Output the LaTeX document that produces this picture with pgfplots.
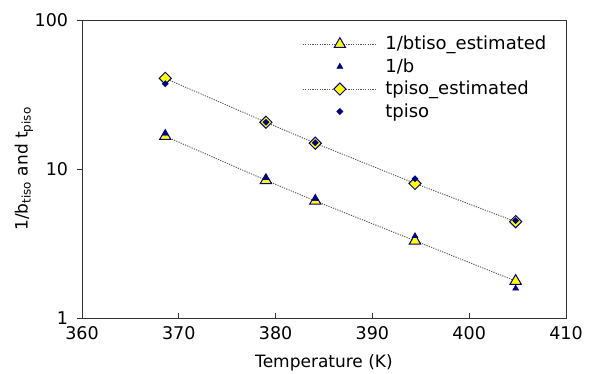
\documentclass[border=0pt]{standalone}
\usepackage{fontspec}
\setmainfont{DejaVu Sans}
\usepackage{pgfplots}
\pgfplotsset{compat=1.18}
\definecolor{mnavy}{RGB}{0,0,128}
\definecolor{myellow}{RGB}{255,255,0}
\definecolor{lgray}{RGB}{85,85,85}
\begin{document}
\fontsize{17}{20}\selectfont
\begin{tikzpicture}
\begin{axis}[name=ax, scale only axis, width=484pt, height=298pt,
  xmin=360, xmax=410, ymode=log, ymin=1, ymax=100,
  xtick={360,370,380,390,400,410}, xticklabels={360,370,380,390,400,410},
  ytick={1,10,100}, yticklabels={1,10,100}, yminorticks=false,
  xtick pos=bottom, ytick pos=left,
  xtick align=inside, ytick align=outside, major tick length=5pt,
  tick style={black!80, line width=0.8pt},
  axis line style={black!80, line width=0.9pt},
  tick label style={font=\fontsize{17.5}{20}\selectfont},
  xticklabel style={yshift=-3pt},
  yticklabel style={xshift=-3pt},
  /pgf/number format/assume math mode=true,
  xlabel={Temperature (K)},
  ylabel={1/b\textsubscript{tiso} and t\textsubscript{piso}},
  every axis x label/.style={at={(axis description cs:0.5,-0.15)}, anchor=center},
  every axis y label/.style={at={(axis description cs:-0.12,0.5)}, anchor=center, rotate=90},
  label style={font=\fontsize{17}{20}\selectfont},
  legend cell align=left,
  legend image code/.code={\draw[#1, mark repeat=2, mark phase=2] plot coordinates {(0pt,0pt) (37pt,0pt) (74pt,0pt)};},
  legend style={at={(axis description cs:0.455,0.95)}, anchor=north west, draw=none, fill=none,
    font=\fontsize{18}{21}\selectfont, inner sep=0pt, row sep=4.2pt,
    nodes={inner sep=1pt}},
  legend style={cells={text depth=0pt}},
]
\addplot[lgray, line width=0.9pt, dash pattern=on 1.2pt off 1.2pt,
  mark=triangle*, mark size=6.5pt, mark options={solid, fill=myellow, draw=mnavy, line width=1pt}]
  coordinates {(368.6,16.6) (379.0,8.4) (384.1,6.1) (394.4,3.3) (404.8,1.77)};
\addlegendentry{\hspace*{7pt}1/btiso\_estimated}
\addplot[only marks, mnavy, mark=triangle*, mark size=3.5pt]
  coordinates {(368.6,17.3) (379.0,8.7) (384.1,6.3) (394.4,3.55) (404.8,1.58)};
\addlegendentry{\hspace*{7pt}1/b}
\addplot[lgray, line width=0.9pt, dash pattern=on 1.2pt off 1.2pt,
  mark=square*, mark size=4.3pt, mark options={solid, rotate=45, fill=myellow, draw=mnavy, line width=1pt}]
  coordinates {(368.6,40.6) (379.0,20.6) (384.1,14.9) (394.4,8.0) (404.8,4.43)};
\addlegendentry{\hspace*{7pt}tpiso\_estimated}
\addplot[only marks, mnavy, mark=square*, mark size=2.2pt, mark options={rotate=45}]
  coordinates {(368.6,37.3) (379.0,20.6) (384.1,15.0) (394.4,8.6) (404.8,4.5)};
\addlegendentry{\hspace*{7pt}tpiso}
\end{axis}
\pgfresetboundingbox
\path[use as bounding box] ([shift={(-82pt,-55pt)}]ax.south west) rectangle ++(602pt,373pt);
\end{tikzpicture}
\end{document}
